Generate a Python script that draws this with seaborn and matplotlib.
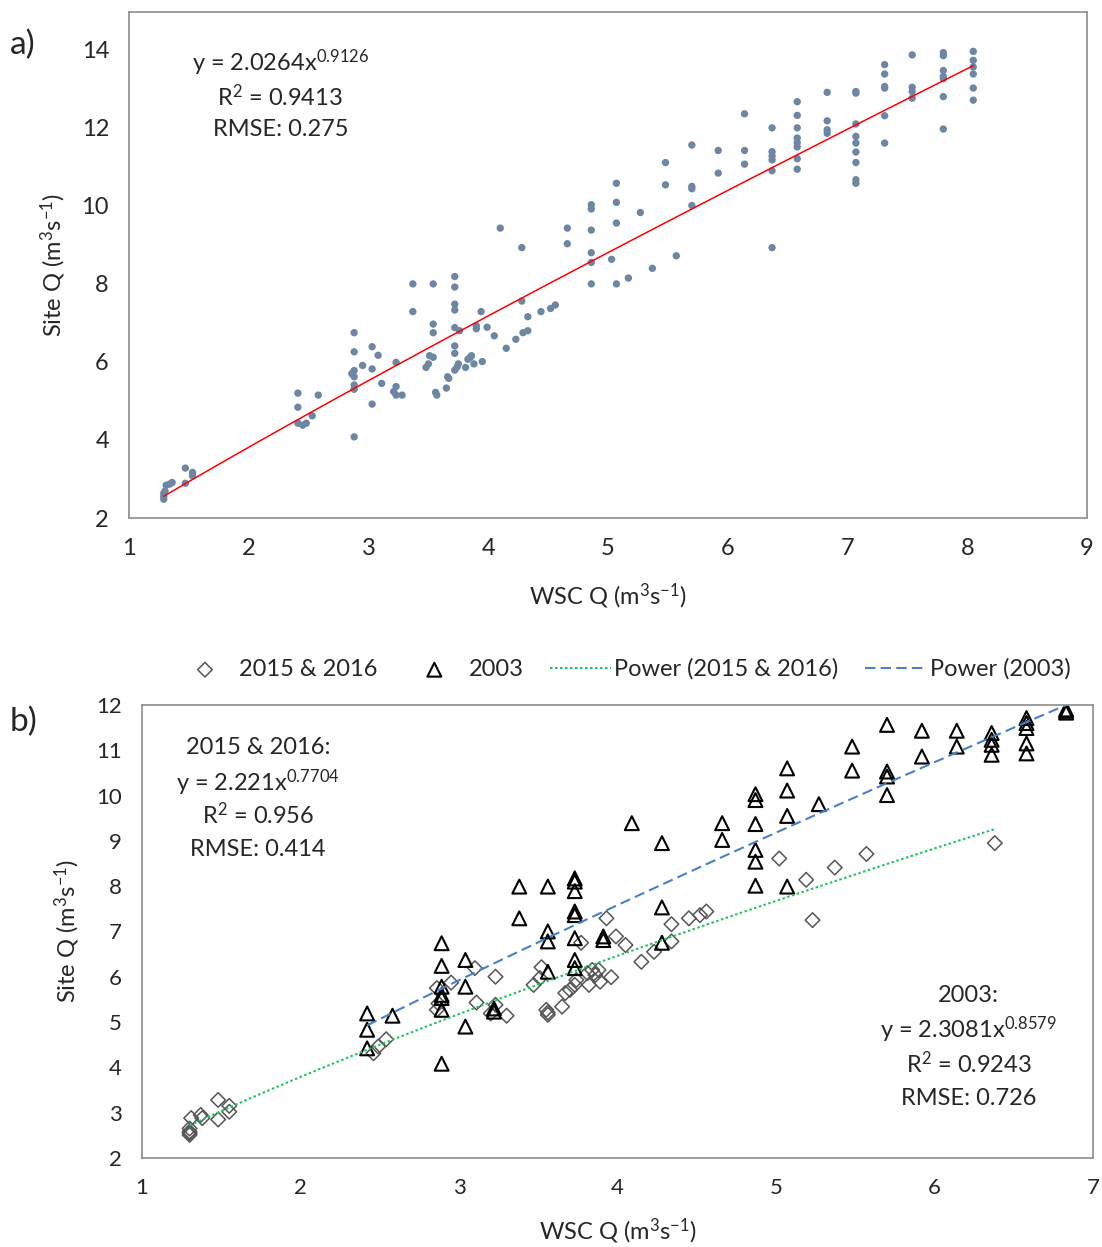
import numpy as np
import pandas as pd
import seaborn as sns
import matplotlib.pyplot as plt

# ---- panel a data (all points) ----
xa = [1.29, 1.29, 1.29, 1.30, 1.31, 1.34, 1.36, 1.47, 1.47, 1.53, 1.53,
      2.41, 2.41, 2.41, 2.45, 2.48, 2.53, 2.58,
      2.88, 2.88, 2.88, 2.86, 2.88, 2.88, 2.88, 2.88,
      2.95, 3.03, 3.08, 3.03, 3.11, 3.03,
      3.23, 3.23, 3.21, 3.23, 3.28,
      3.37, 3.37, 3.54, 3.54, 3.54, 3.51, 3.54, 3.48, 3.50, 3.56, 3.57, 3.65, 3.67, 3.66,
      3.72, 3.72, 3.72, 3.72, 3.72, 3.72, 3.72, 3.72, 3.74, 3.75,
      3.76, 3.81, 3.83, 3.85, 3.86, 3.88, 3.90, 3.90, 3.94, 3.95, 3.99, 4.05,
      4.10, 4.15, 4.23, 4.28, 4.28, 4.33, 4.29, 4.33, 4.44, 4.52, 4.56,
      4.66, 4.66,
      4.86, 4.86, 4.86, 4.86, 4.86, 4.86,
      5.03, 5.07, 5.07, 5.07, 5.07, 5.17, 5.27, 5.37, 5.48, 5.48, 5.57,
      5.70, 5.70, 5.70, 5.70,
      5.92, 5.92,
      6.14, 6.14, 6.14,
      6.37, 6.37, 6.37, 6.37, 6.37, 6.37,
      6.58, 6.58, 6.58, 6.58, 6.58, 6.58, 6.58, 6.58,
      6.83, 6.83, 6.83, 6.83,
      7.07, 7.07, 7.07, 7.07, 7.07, 7.07, 7.07, 7.07, 7.07,
      7.31, 7.31, 7.31, 7.31, 7.31, 7.31,
      7.54, 7.54, 7.54, 7.54,
      7.80, 7.80, 7.80, 7.80, 7.80, 7.80, 7.80,
      8.05, 8.05, 8.05, 8.05, 8.05, 8.05]
ya = [2.48, 2.56, 2.63, 2.69, 2.84, 2.87, 2.91, 3.28, 2.89, 3.17, 3.08,
      5.20, 4.84, 4.43, 4.38, 4.43, 4.62, 5.15,
      6.75, 6.26, 5.78, 5.70, 5.62, 5.41, 5.30, 4.08,
      5.91, 6.39, 6.17, 5.82, 5.45, 4.92,
      5.99, 5.37, 5.24, 5.15, 5.15,
      8.00, 7.29, 8.00, 6.97, 6.75, 6.16, 6.12, 5.86, 5.95, 5.22, 5.15, 5.33, 5.58, 5.62,
      8.19, 7.92, 7.48, 7.33, 6.88, 6.41, 6.22, 5.79, 5.87, 5.95,
      6.80, 5.86, 6.07, 6.12, 6.16, 5.95, 6.93, 6.85, 7.29, 6.01, 6.89, 6.67,
      9.43, 6.35, 6.58, 8.93, 7.56, 7.16, 6.75, 6.80, 7.29, 7.37, 7.46,
      9.43, 9.03,
      10.03, 9.92, 9.38, 8.80, 8.55, 8.00,
      8.63, 10.58, 10.09, 9.56, 8.00, 8.15, 9.83, 8.40, 11.11, 10.54, 8.72,
      11.56, 10.50, 10.44, 10.01,
      11.42, 10.84,
      12.36, 11.42, 11.07,
      12.00, 11.39, 11.28, 11.18, 10.90, 8.93,
      12.67, 12.32, 12.00, 11.74, 11.62, 11.51, 11.21, 10.94,
      12.91, 12.18, 11.95, 11.86,
      12.93, 12.89, 12.10, 11.78, 11.61, 11.38, 11.11, 10.67, 10.58,
      13.62, 13.38, 13.06, 13.02, 12.31, 11.61,
      13.87, 13.04, 12.93, 12.76,
      13.93, 13.85, 13.47, 13.32, 13.26, 12.80, 11.97,
      13.96, 13.73, 13.56, 13.38, 13.02, 12.71]
fit_a = (2.0264, 0.9126)

# ---- panel b data ----
x2015 = [1.30, 1.30, 1.30, 1.30, 1.31, 1.37, 1.38, 1.48, 1.48, 1.55, 1.55,
         2.46, 2.49, 2.54, 2.86, 2.87, 2.86, 2.95, 3.10, 3.11, 3.23, 3.23, 3.20, 3.30,
         3.47, 3.51, 3.52, 3.55, 3.56, 3.56, 3.65, 3.67, 3.70, 3.73, 3.74, 3.77, 3.81,
         3.82, 3.84, 3.86, 3.88, 3.89, 3.93, 3.96, 3.99, 4.05, 4.15, 4.23, 4.34, 4.34,
         4.45, 4.52, 4.56,
         5.02, 5.19, 5.23, 5.37, 5.57, 6.38]
y2015 = [2.51, 2.55, 2.58, 2.65, 2.88, 2.95, 2.88, 3.28, 2.85, 3.15, 3.02,
         4.31, 4.46, 4.62, 5.27, 5.41, 5.75, 5.87, 6.19, 5.43, 6.00, 5.38, 5.19, 5.14,
         5.82, 5.97, 6.21, 5.27, 5.16, 5.21, 5.34, 5.64, 5.71, 5.82, 5.93, 6.75, 6.08,
         5.82, 6.15, 6.04, 6.15, 5.89, 7.29, 5.99, 6.89, 6.70, 6.33, 6.55, 6.78, 7.16,
         7.29, 7.36, 7.44,
         8.61, 8.14, 7.25, 8.41, 8.71, 8.95]
x2003 = [2.42, 2.42, 2.42, 2.58,
         2.89, 2.89, 2.89, 2.89, 2.89, 2.89, 2.89,
         3.04, 3.04, 3.04, 3.22, 3.22, 3.38, 3.38,
         3.56, 3.56, 3.56, 3.56,
         3.73, 3.73, 3.73, 3.73, 3.73, 3.73, 3.73, 3.73,
         3.91, 3.91, 4.09, 4.28, 4.28, 4.28,
         4.66, 4.66,
         4.87, 4.87, 4.87, 4.87, 4.87, 4.87,
         5.07, 5.07, 5.07, 5.07, 5.27,
         5.48, 5.48, 5.70, 5.70, 5.70, 5.70,
         5.92, 5.92, 6.14, 6.14,
         6.36, 6.36, 6.36, 6.36,
         6.58, 6.58, 6.58, 6.58, 6.58,
         6.83, 6.83, 6.83]
y2003 = [5.19, 4.83, 4.42, 5.14,
         6.74, 6.24, 5.78, 5.60, 5.53, 5.27, 4.08,
         6.37, 5.78, 4.90, 5.23, 5.30, 7.99, 7.29,
         7.99, 7.00, 6.78, 6.11,
         8.17, 8.10, 7.89, 7.44, 7.36, 6.85, 6.37, 6.19,
         6.89, 6.81, 9.39, 8.95, 7.53, 6.75,
         9.39, 9.02,
         10.03, 9.90, 9.37, 8.80, 8.54, 8.01,
         10.60, 10.11, 9.55, 7.99, 9.81,
         11.08, 10.55, 11.56, 10.53, 10.42, 10.01,
         11.43, 10.86, 11.43, 11.08,
         11.38, 11.23, 11.12, 10.90,
         11.71, 11.60, 11.49, 11.15, 10.93,
         11.83, 11.87, 11.90]
fit_2015 = (2.221, 0.7704)
fit_2003 = (2.3081, 0.8579)

sns.set_theme(style='white')
plt.rcParams['font.family'] = ['Lato', 'DejaVu Sans']
plt.rcParams['mathtext.fontset'] = 'custom'
plt.rcParams['mathtext.rm'] = 'Lato'
plt.rcParams['mathtext.default'] = 'regular'

grey = '#8C8C8C'
txt = '#262626'
unit = r' (m$^3$s$^{-1}$)'
fs = 17


def style_ax(ax, size):
    for s in ax.spines.values():
        s.set_color(grey)
        s.set_linewidth(1.2)
    ax.tick_params(direction='inout', length=11, width=1.2, color=grey,
                   labelsize=size, labelcolor=txt, pad=9)


fig = plt.figure(figsize=(11.02, 12.47), dpi=100)

# ---------------- panel a ----------------
ax1 = fig.add_axes([0.1171, 0.5846, 0.8693, 0.4058])
sns.scatterplot(x=xa, y=ya, ax=ax1, color='#6C86A3', s=28, edgecolor='none')
xs = np.linspace(min(xa), max(xa), 100)
sns.lineplot(x=xs, y=fit_a[0] * xs ** fit_a[1], ax=ax1, color='red', lw=1.1)
ax1.set_xlim(1, 9)
ax1.set_ylim(2, 14.97)
ax1.set_xticks(range(1, 10))
ax1.set_yticks(range(2, 15, 2))
style_ax(ax1, fs)
ax1.set_xlabel('WSC Q' + unit, fontsize=fs, color=txt, labelpad=16)
ax1.set_ylabel('Site Q' + unit, fontsize=fs, color=txt, labelpad=10)
ax1.text(0.158, 0.899, 'y = %.4fx$^{%.4f}$' % fit_a, transform=ax1.transAxes,
         ha='center', va='center', fontsize=fs, color=txt)
ax1.text(0.158, 0.832, 'R$^2$ = 0.9413', transform=ax1.transAxes,
         ha='center', va='center', fontsize=fs, color=txt)
ax1.text(0.158, 0.767, 'RMSE: 0.275', transform=ax1.transAxes,
         ha='center', va='center', fontsize=fs, color=txt)
fig.text(0.009, 0.964, 'a)', fontsize=24, color=txt, va='center')

# ---------------- panel b ----------------
ax2 = fig.add_axes([0.1289, 0.0714, 0.8630, 0.3633])
sns.scatterplot(x=x2015, y=y2015, ax=ax2, marker='D', s=55, facecolor='none',
                edgecolor='#555555', linewidth=1.1, label='2015 & 2016')
sns.scatterplot(x=x2003, y=y2003, ax=ax2, marker='^', s=100, facecolor='none',
                edgecolor='black', linewidth=1.5, label='2003')
xb1 = np.linspace(min(x2015), max(x2015), 100)
xb2 = np.linspace(min(x2003), max(x2003), 100)
sns.lineplot(x=xb1, y=fit_2015[0] * xb1 ** fit_2015[1], ax=ax2, color='#22C55E',
             lw=1.5, linestyle=(0, (1.2, 1.2)), label='Power (2015 & 2016)')
sns.lineplot(x=xb2, y=fit_2003[0] * xb2 ** fit_2003[1], ax=ax2, color='#4682C8',
             lw=1.5, linestyle=(0, (5, 2.5)), label='Power (2003)')
ax2.set_xlim(1, 7)
ax2.set_ylim(2, 12)
ax2.set_xticks(range(1, 8))
ax2.set_yticks(range(2, 13))
style_ax(ax2, 16)
ax2.set_xlabel('WSC Q' + unit, fontsize=fs, color=txt, labelpad=13)
ax2.set_ylabel('Site Q' + unit, fontsize=fs, color=txt, labelpad=10)
ax2.legend(loc='center', bbox_to_anchor=(0.505, 1.079), ncol=4, frameon=False,
           fontsize=fs, handlelength=2.6, handletextpad=0.15, columnspacing=1.1,
           labelcolor=txt)

lines_l = ['2015 & 2016:', 'y = %.3fx$^{%.4f}$' % fit_2015, 'R$^2$ = 0.956', 'RMSE: 0.414']
for t, yy in zip(lines_l, [0.905, 0.828, 0.757, 0.680]):
    ax2.text(0.122, yy, t, transform=ax2.transAxes, ha='center', va='center',
             fontsize=fs, color=txt)
lines_r = ['2003:', 'y = %.4fx$^{%.4f}$' % fit_2003, 'R$^2$ = 0.9243', 'RMSE: 0.726']
for t, yy in zip(lines_r, [0.358, 0.283, 0.208, 0.132]):
    ax2.text(0.869, yy, t, transform=ax2.transAxes, ha='center', va='center',
             fontsize=fs, color=txt)
fig.text(0.009, 0.421, 'b)', fontsize=24, color=txt, va='center')

fig.savefig('out.png', dpi=100)
